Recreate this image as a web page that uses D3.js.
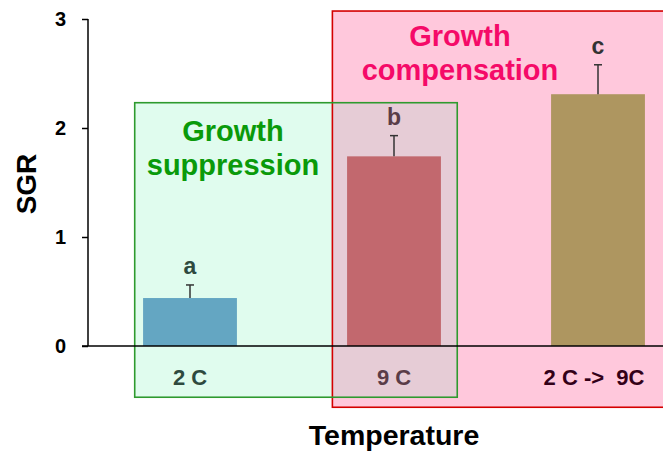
<!DOCTYPE html>
<html><head><meta charset="utf-8">
<script src="https://cdn.jsdelivr.net/npm/d3@7"></script>
<style>
html,body{margin:0;padding:0;background:#fff;}
text{font-family:"Liberation Sans",Arial,sans-serif;font-weight:bold;}
</style></head>
<body>
<svg id="chart" width="663" height="452"></svg>
<script>
const categories = ["2 C", "9 C", "2 C ->\u00A0\u00A09C"];
const sgr = [0.44, 1.74, 2.31];
const sgrErr = [0.12, 0.19, 0.27];
const letters = ["a", "b", "c"];
const barColors = ["#64a6c2", "#c2686e", "#ae9660"];
const catColors = ["#2e4a3e", "#5a3c48", "#330018"];
const letterColors = ["#2e4a3e", "#5a3c48", "#333333"];
const yTicks = [0, 1, 2, 3];

const svg = d3.select("#chart");
const x = d3.scaleBand().domain(d3.range(categories.length)).range([88, 700]).paddingInner(0.54).paddingOuter(0.27);
const y = d3.scaleLinear().domain([0, 3]).range([346, 19]);
const step = x.step();
const cx = i => x(i) + x.bandwidth() / 2;

// annotation boxes (in category / data units)
const redBox = {x0: cx(1) - 0.302 * step, x1: cx(2) + 0.45 * step, y0: 3.073, y1: -0.562};
const greenBox = {x0: cx(0) - 0.271 * step, x1: cx(1) + 0.31 * step, y0: 2.232, y1: -0.47};

function boxRect(b) {
  return svg.append("rect").attr("x", b.x0).attr("y", y(b.y0))
    .attr("width", b.x1 - b.x0).attr("height", y(b.y1) - y(b.y0));
}
boxRect(redBox).attr("fill", "#ffc8dc");
boxRect(greenBox).attr("fill", "#e0fcee");
const overlap = {
  x0: Math.max(redBox.x0, greenBox.x0), x1: Math.min(redBox.x1, greenBox.x1),
  y0: Math.min(redBox.y0, greenBox.y0), y1: Math.max(redBox.y1, greenBox.y1)
};
boxRect(overlap).attr("fill", "#e6ccd6");
boxRect(redBox).attr("fill", "none").attr("stroke", "#d40000").attr("stroke-width", 1.6);
boxRect(greenBox).attr("fill", "none").attr("stroke", "#2e9a2e").attr("stroke-width", 1.6);

// box titles
const gs = svg.append("text").attr("text-anchor", "middle").attr("fill", "#0a9a0a").style("font-size", "29px");
gs.append("tspan").attr("x", 233).attr("y", 141).text("Growth");
gs.append("tspan").attr("x", 233).attr("y", 175).text("suppression");
const gc = svg.append("text").attr("text-anchor", "middle").attr("fill", "#f50a68").style("font-size", "29px");
gc.append("tspan").attr("x", 460).attr("y", 46).text("Growth");
gc.append("tspan").attr("x", 460).attr("y", 80).text("compensation");

// bars
svg.selectAll("rect.bar").data(sgr).join("rect").attr("class", "bar")
  .attr("x", (d, i) => x(i)).attr("width", x.bandwidth())
  .attr("y", d => y(d)).attr("height", d => y(0) - y(d))
  .attr("fill", (d, i) => barColors[i]);

// error bars
const eb = svg.append("g").attr("stroke", "#333").attr("stroke-width", 1.5);
sgr.forEach((v, i) => {
  eb.append("line").attr("x1", cx(i)).attr("x2", cx(i)).attr("y1", y(v)).attr("y2", y(v + sgrErr[i]));
  eb.append("line").attr("x1", cx(i) - 4).attr("x2", cx(i) + 4).attr("y1", y(v + sgrErr[i])).attr("y2", y(v + sgrErr[i]));
});

// significance letters
svg.selectAll("text.sig").data(letters).join("text").attr("class", "sig")
  .attr("x", (d, i) => cx(i)).attr("y", (d, i) => y(sgr[i] + sgrErr[i]) - 11)
  .attr("text-anchor", "middle").attr("fill", (d, i) => letterColors[i])
  .style("font-size", "23px").text(d => d);

// axes
const ax = svg.append("g").attr("stroke", "#000").attr("stroke-width", 1.5);
ax.append("line").attr("x1", 82).attr("x2", 663).attr("y1", y(0)).attr("y2", y(0));
const yAxis = d3.axisLeft(y).tickValues(yTicks).tickFormat(d3.format("d")).tickSize(6).tickPadding(16);
const yg = svg.append("g").attr("transform", "translate(88,0)").call(yAxis);
yg.select(".domain").attr("stroke", "#000").attr("stroke-width", 1.5).attr("d", `M0,${y(3)}V${y(0)}`);
yg.selectAll(".tick line").attr("stroke", "#000").attr("stroke-width", 1.5);
yg.selectAll(".tick text").attr("fill", "#000").style("font-size", "20px").style("font-family", "'Liberation Sans',Arial,sans-serif").style("font-weight", "bold");

// category labels
svg.selectAll("text.cat").data(categories).join("text").attr("class", "cat")
  .attr("x", (d, i) => cx(i) - (i === 2 ? 4 : 0)).attr("y", 385).attr("text-anchor", "middle")
  .attr("fill", (d, i) => catColors[i]).style("font-size", "22px")
  .text(d => d);

// axis titles
svg.append("text").attr("x", 394).attr("y", 445).attr("text-anchor", "middle").attr("fill", "#000")
  .style("font-size", "28.5px").text("Temperature");
svg.append("text").attr("transform", "translate(36,184) rotate(-90)").attr("text-anchor", "middle").attr("fill", "#000")
  .style("font-size", "28px").text("SGR");
</script>
</body></html>
